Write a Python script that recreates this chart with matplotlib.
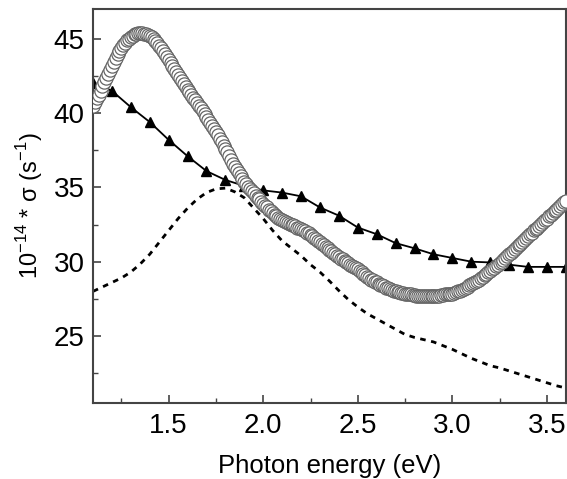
import numpy as np
import matplotlib
matplotlib.use('Agg')
import matplotlib.pyplot as plt

plt.rcParams['font.family'] = ['Liberation Sans', 'DejaVu Sans']

# open circles (experimental), 0.01 eV step
e_circ = [1.10, 1.11, 1.12, 1.13, 1.14, 1.15, 1.16, 1.17, 1.18, 1.19,
          1.20, 1.21, 1.22, 1.23, 1.24, 1.25, 1.26, 1.27, 1.28, 1.29,
          1.30, 1.31, 1.32, 1.33, 1.34, 1.35, 1.36, 1.37, 1.38, 1.39,
          1.40, 1.41, 1.42, 1.43, 1.44, 1.45, 1.46, 1.47, 1.48, 1.49,
          1.50, 1.51, 1.52, 1.53, 1.54, 1.55, 1.56, 1.57, 1.58, 1.59,
          1.60, 1.61, 1.62, 1.63, 1.64, 1.65, 1.66, 1.67, 1.68, 1.69,
          1.70, 1.71, 1.72, 1.73, 1.74, 1.75, 1.76, 1.77, 1.78, 1.79,
          1.80, 1.81, 1.82, 1.83, 1.84, 1.85, 1.86, 1.87, 1.88, 1.89,
          1.90, 1.91, 1.92, 1.93, 1.94, 1.95, 1.96, 1.97, 1.98, 1.99,
          2.00, 2.01, 2.02, 2.03, 2.04, 2.05, 2.06, 2.07, 2.08, 2.09,
          2.10, 2.11, 2.12, 2.13, 2.14, 2.15, 2.16, 2.17, 2.18, 2.19,
          2.20, 2.21, 2.22, 2.23, 2.24, 2.25, 2.26, 2.27, 2.28, 2.29,
          2.30, 2.31, 2.32, 2.33, 2.34, 2.35, 2.36, 2.37, 2.38, 2.39,
          2.40, 2.41, 2.42, 2.43, 2.44, 2.45, 2.46, 2.47, 2.48, 2.49,
          2.50, 2.51, 2.52, 2.53, 2.54, 2.55, 2.56, 2.57, 2.58, 2.59,
          2.60, 2.61, 2.62, 2.63, 2.64, 2.65, 2.66, 2.67, 2.68, 2.69,
          2.70, 2.71, 2.72, 2.73, 2.74, 2.75, 2.76, 2.77, 2.78, 2.79,
          2.80, 2.81, 2.82, 2.83, 2.84, 2.85, 2.86, 2.87, 2.88, 2.89,
          2.90, 2.91, 2.92, 2.93, 2.94, 2.95, 2.96, 2.97, 2.98, 2.99,
          3.00, 3.01, 3.02, 3.03, 3.04, 3.05, 3.06, 3.07, 3.08, 3.09,
          3.10, 3.11, 3.12, 3.13, 3.14, 3.15, 3.16, 3.17, 3.18, 3.19,
          3.20, 3.21, 3.22, 3.23, 3.24, 3.25, 3.26, 3.27, 3.28, 3.29,
          3.30, 3.31, 3.32, 3.33, 3.34, 3.35, 3.36, 3.37, 3.38, 3.39,
          3.40, 3.41, 3.42, 3.43, 3.44, 3.45, 3.46, 3.47, 3.48, 3.49,
          3.50, 3.51, 3.52, 3.53, 3.54, 3.55, 3.56, 3.57, 3.58, 3.59,
          3.60]
s_circ = [40.5, 40.75, 41.0, 41.25, 41.5, 41.8, 42.1, 42.35, 42.6, 42.9,
          43.2, 43.45, 43.7, 43.95, 44.2, 44.4, 44.6, 44.75, 44.9, 45.0,
          45.1, 45.2, 45.3, 45.35, 45.4, 45.4, 45.4, 45.35, 45.3, 45.25,
          45.2, 45.1, 45.0, 44.85, 44.7, 44.55, 44.35, 44.15, 43.95, 43.75,
          43.55, 43.35, 43.15, 42.95, 42.75, 42.55, 42.35, 42.15, 41.95, 41.75,
          41.55, 41.4, 41.25, 41.05, 40.9, 40.7, 40.5, 40.35, 40.15, 39.95,
          39.75, 39.55, 39.35, 39.1, 38.9, 38.7, 38.5, 38.25, 38.05, 37.8,
          37.6, 37.35, 37.1, 36.85, 36.6, 36.4, 36.15, 35.95, 35.75, 35.55,
          35.35, 35.2, 35.05, 34.9, 34.75, 34.6, 34.45, 34.3, 34.2, 34.05,
          33.9, 33.75, 33.65, 33.5, 33.4, 33.25, 33.15, 33.05, 32.95, 32.9,
          32.8, 32.75, 32.7, 32.6, 32.55, 32.5, 32.45, 32.4, 32.3, 32.25,
          32.2, 32.1, 32.05, 31.95, 31.9, 31.8, 31.7, 31.6, 31.5, 31.4,
          31.3, 31.2, 31.1, 31.0, 30.9, 30.8, 30.7, 30.6, 30.5, 30.4,
          30.3, 30.2, 30.15, 30.05, 29.95, 29.9, 29.8, 29.7, 29.65, 29.55,
          29.5, 29.4, 29.3, 29.2, 29.1, 29.0, 28.9, 28.8, 28.75, 28.65,
          28.6, 28.5, 28.45, 28.4, 28.35, 28.25, 28.2, 28.15, 28.1, 28.05,
          28.0, 27.95, 27.95, 27.9, 27.9, 27.85, 27.8, 27.8, 27.8, 27.75,
          27.75, 27.7, 27.7, 27.7, 27.7, 27.7, 27.7, 27.7, 27.7, 27.7,
          27.7, 27.7, 27.7, 27.7, 27.75, 27.75, 27.8, 27.8, 27.8, 27.85,
          27.85, 27.9, 27.95, 28.0, 28.05, 28.1, 28.15, 28.2, 28.3, 28.4,
          28.5, 28.55, 28.65, 28.7, 28.8, 28.9, 29.0, 29.1, 29.2, 29.3,
          29.4, 29.5, 29.6, 29.7, 29.8, 29.9, 30.0, 30.1, 30.25, 30.35,
          30.5, 30.6, 30.75, 30.85, 31.0, 31.1, 31.2, 31.35, 31.45, 31.6,
          31.7, 31.85, 31.95, 32.1, 32.2, 32.3, 32.4, 32.55, 32.65, 32.8,
          32.9, 33.05, 33.15, 33.3, 33.4, 33.5, 33.6, 33.75, 33.85, 34.0,
          34.1]

# filled triangles, 0.1 eV step
e_tri = [1.1, 1.2, 1.3, 1.4, 1.5, 1.6, 1.7, 1.8, 1.9, 2.0, 2.1, 2.2, 2.3,
         2.4, 2.5, 2.6, 2.7, 2.8, 2.9, 3.0, 3.1, 3.2, 3.3, 3.4, 3.5, 3.6]
s_tri = [42.0, 41.5, 40.4, 39.4, 38.2, 37.1, 36.1, 35.5, 35.1, 34.8, 34.65, 34.4, 33.65,
         33.1, 32.3, 31.85, 31.25, 30.9, 30.5, 30.25, 30.0, 29.95, 29.8, 29.65, 29.65, 29.65]

# dashed curve, 0.05 eV step
e_dash = [1.10, 1.15, 1.20, 1.25, 1.30, 1.35, 1.40, 1.45, 1.50, 1.55, 1.60, 1.65, 1.70,
          1.75, 1.80, 1.85, 1.90, 1.95, 2.00, 2.05, 2.10, 2.15, 2.20, 2.25, 2.30, 2.35,
          2.40, 2.45, 2.50, 2.55, 2.60, 2.65, 2.70, 2.75, 2.80, 2.85, 2.90, 2.95, 3.00,
          3.05, 3.10, 3.15, 3.20, 3.25, 3.30, 3.35, 3.40, 3.45, 3.50, 3.55, 3.60]
s_dash = [28.0, 28.3, 28.6, 28.9, 29.3, 29.85, 30.5, 31.3, 32.1, 32.9, 33.6, 34.2, 34.65,
          34.9, 34.95, 34.7, 34.3, 33.6, 32.9, 32.1, 31.4, 30.9, 30.4, 29.8, 29.3, 28.7,
          28.05, 27.45, 26.95, 26.5, 26.15, 25.8, 25.45, 25.1, 24.9, 24.75, 24.6, 24.35, 24.1,
          23.8, 23.5, 23.25, 23.0, 22.85, 22.65, 22.45, 22.25, 22.05, 21.85, 21.65, 21.5]

xticks = [1.5, 2.0, 2.5, 3.0, 3.5]
yticks = [25, 30, 35, 40, 45]

fig = plt.figure(figsize=(5.67, 4.79), dpi=100)
ax = fig.add_axes([0.164, 0.159, 0.834, 0.822])

ax.plot(e_dash, s_dash, color='black', lw=2.0, linestyle=(0, (2.0, 2.0)), zorder=1)
ax.plot(e_tri, s_tri, color='black', lw=1.3, marker='^', markersize=7.5,
        markerfacecolor='black', markeredgecolor='black', zorder=2)
ax.plot(e_circ, s_circ, linestyle='none', marker='o', markersize=9.5,
        markerfacecolor='white', markeredgecolor='#656565', markeredgewidth=0.9, zorder=3)

ax.set_xlim(1.1, 3.6)
ax.set_ylim(20.5, 47)
ax.set_xticks(xticks)
ax.set_xticklabels(['1.5', '2.0', '2.5', '3.0', '3.5'])
ax.set_yticks(yticks)
ax.set_xticks([1.25, 1.75, 2.25, 2.75, 3.25], minor=True)
ax.set_yticks([22.5, 27.5, 32.5, 37.5, 42.5], minor=True)

ax.tick_params(which='both', direction='in', color='#444444', labelsize=20,
               top=False, right=False)
ax.tick_params(which='major', length=6, width=1.2)
ax.tick_params(which='minor', length=3.5, width=1.0)
ax.tick_params(axis='x', pad=7)
ax.tick_params(axis='y', pad=6)
for sp in ax.spines.values():
    sp.set_color('#444444')
    sp.set_linewidth(1.5)

ax.set_xlabel('Photon energy (eV)', fontsize=18.5, labelpad=11)
ax.set_ylabel(r'10$^{\mathregular{-14}}$ * $\mathregular{\sigma}$ (s$^{\mathregular{-1}}$)',
              fontsize=17, labelpad=6)

fig.savefig('out.png', dpi=100)
